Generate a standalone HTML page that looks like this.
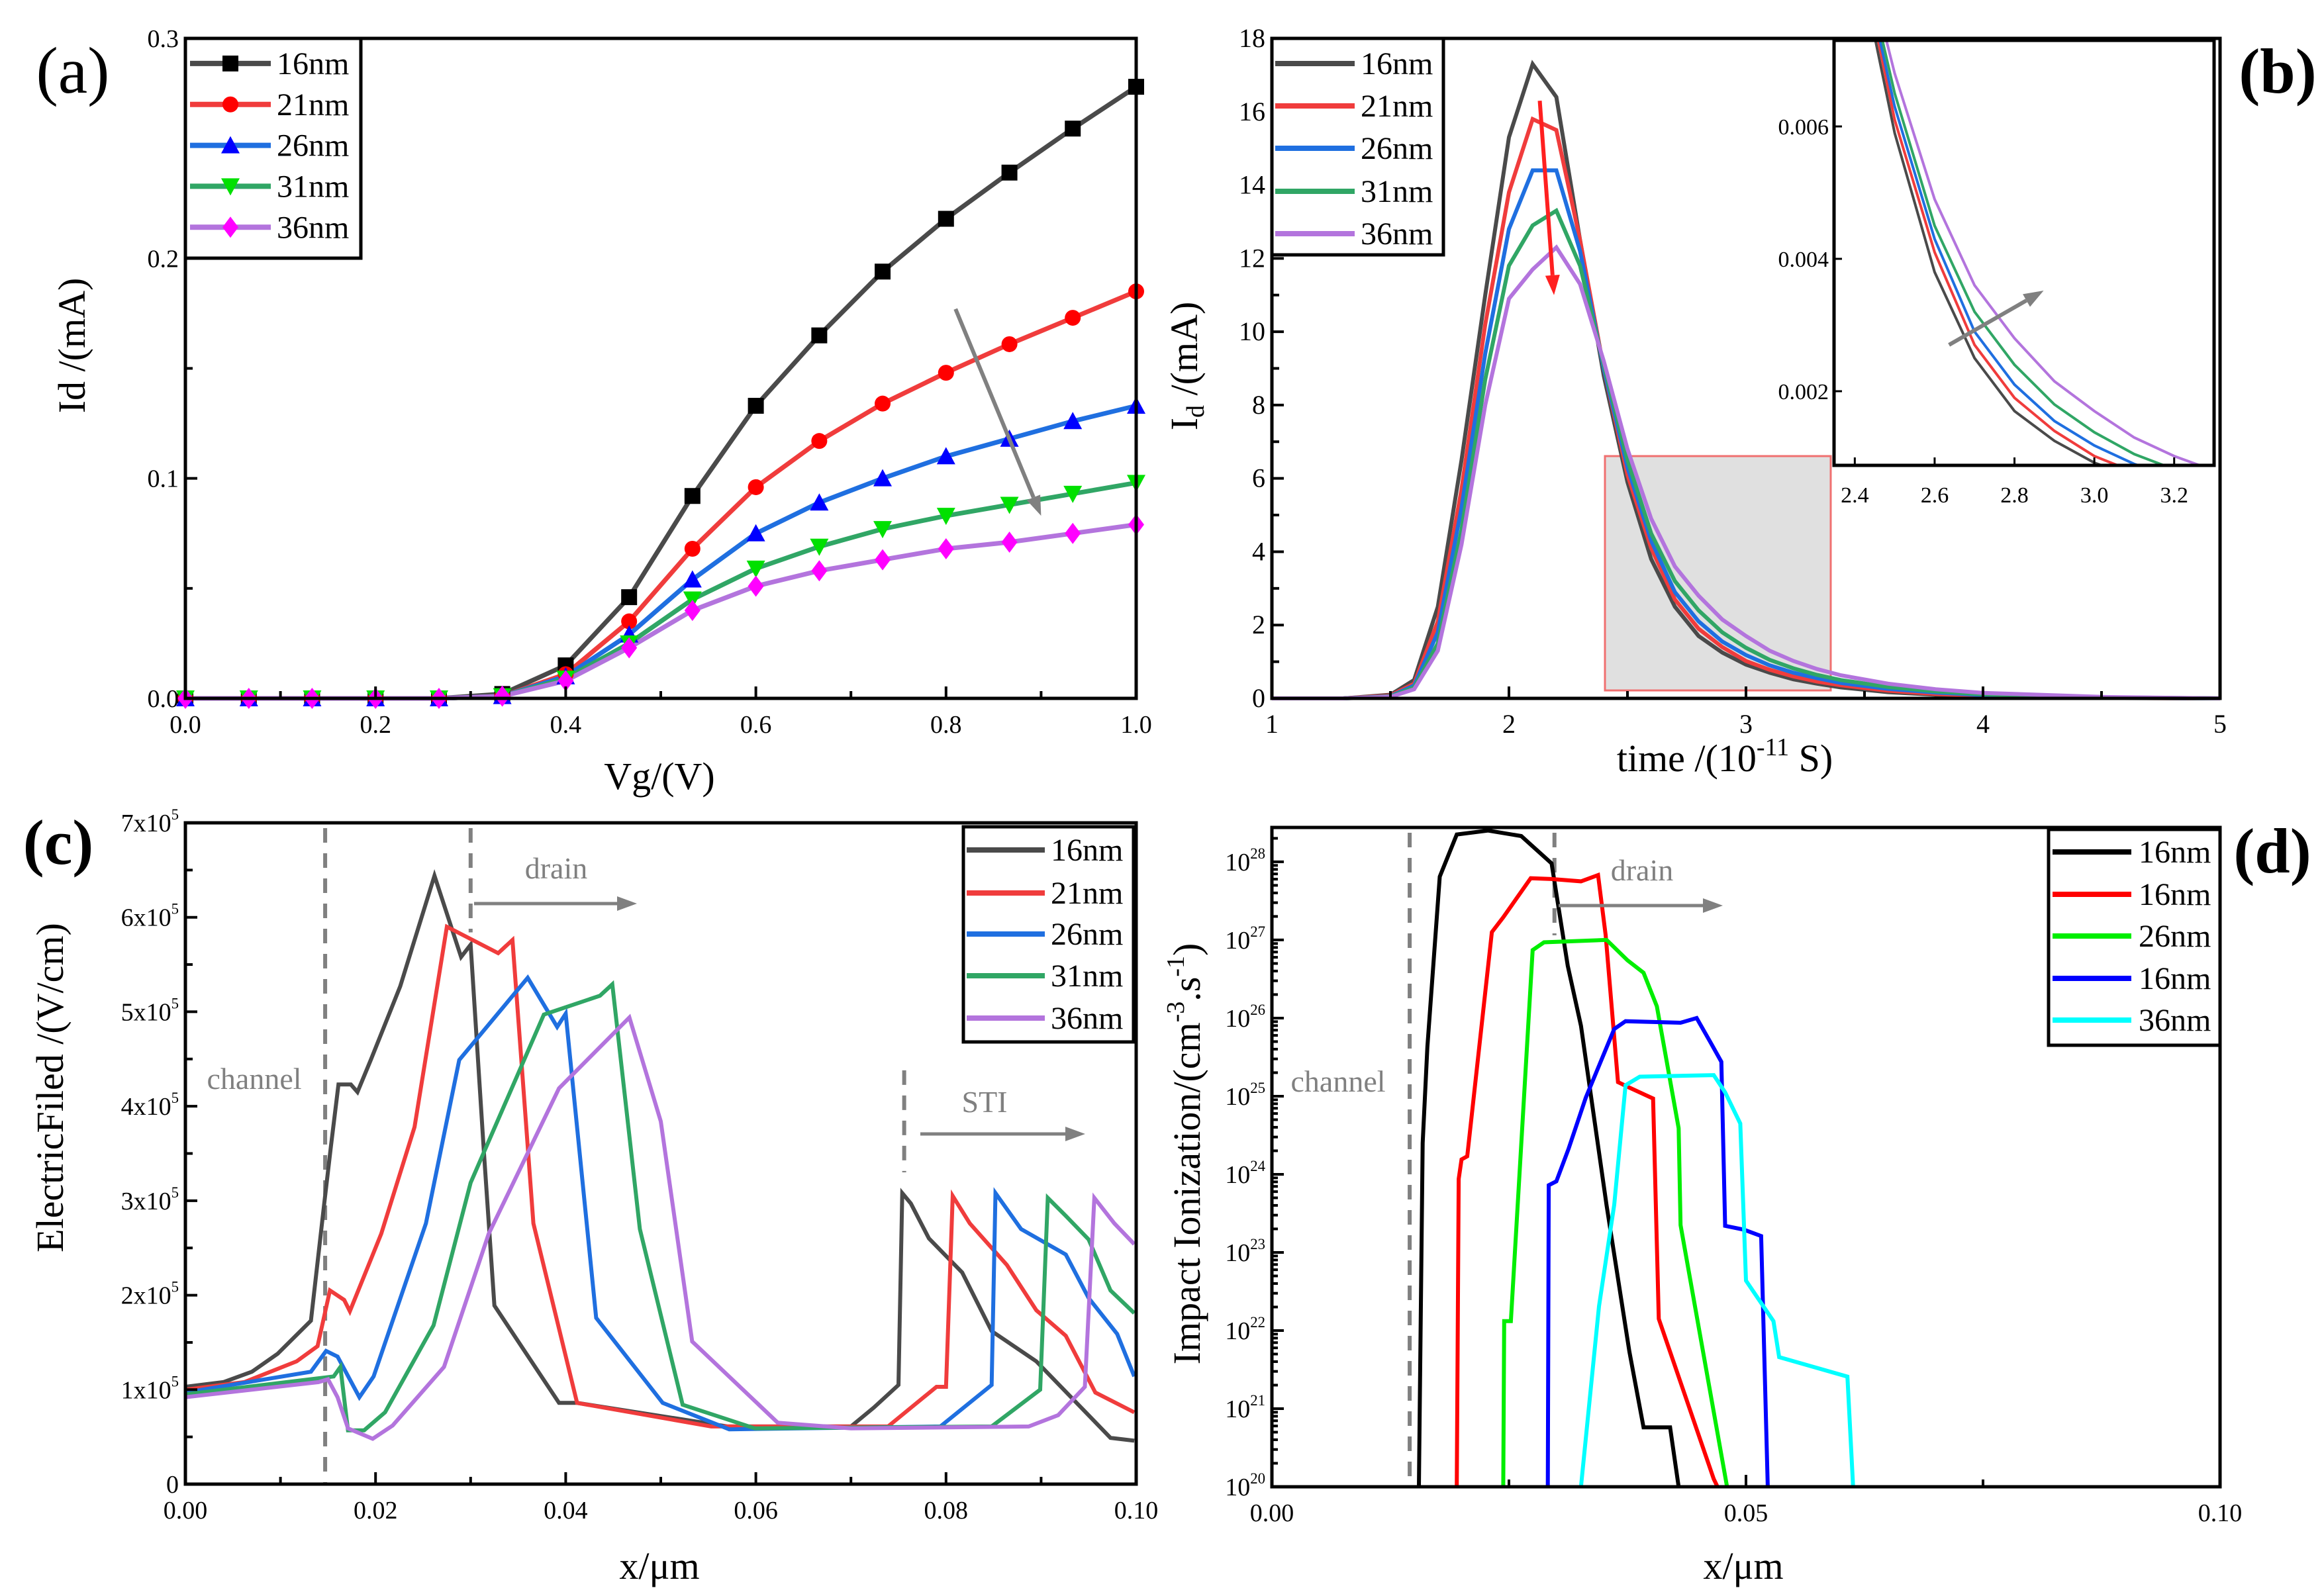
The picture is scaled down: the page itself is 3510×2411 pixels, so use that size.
<!DOCTYPE html>
<html><head><meta charset="utf-8">
<style>
html,body{margin:0;padding:0;background:#fff;}
svg{display:block;font-family:"Liberation Serif",serif;}
</style></head>
<body>
<svg id="chart" xmlns="http://www.w3.org/2000/svg" width="3510" height="2411" viewBox="0 0 3510 2411">
<rect x="0" y="0" width="3510" height="2411" fill="#fff"/>
<g id="ga"></g>
<g id="gb"></g>
<g id="gc"></g>
<g id="gd"></g>
</svg>
<script>
// ---------- Panel (a) data ----------
const aVg = [0,0.0667,0.1333,0.2,0.2667,0.3333,0.4,0.4667,0.5333,0.6,0.6667,0.7333,0.8,0.8667,0.9333,1.0];
const a16 = [0,0,0,0,0,0.002,0.015,0.046,0.092,0.133,0.165,0.194,0.218,0.239,0.259,0.278];
const a21 = [0,0,0,0,0,0.001,0.011,0.035,0.068,0.096,0.117,0.134,0.148,0.161,0.173,0.185];
const a26 = [0,0,0,0,0,0.001,0.010,0.029,0.054,0.075,0.089,0.100,0.110,0.118,0.126,0.133];
const a31 = [0,0,0,0,0,0.001,0.009,0.025,0.045,0.059,0.069,0.077,0.083,0.088,0.093,0.098];
const a36 = [0,0,0,0,0,0.001,0.008,0.023,0.040,0.051,0.058,0.063,0.068,0.071,0.075,0.079];
const aXTicks = [0,0.2,0.4,0.6,0.8,1.0];
const aXTickLabels = ["0.0","0.2","0.4","0.6","0.8","1.0"];
const aYTicks = [0,0.1,0.2,0.3];
const aYTickLabels = ["0.0","0.1","0.2","0.3"];
// ---------- Panel (b) data ----------
const bT = [1,1.3,1.5,1.6,1.7,1.8,1.9,2.0,2.1,2.2,2.3,2.4,2.5,2.6,2.7,2.8,2.9,3.0,3.1,3.2,3.3,3.4,3.6,3.8,4.0,4.5,5.0];
const b16 = [0,0,0.1,0.5,2.5,6.5,11.0,15.3,17.3,16.4,12.5,8.8,5.9,3.8,2.5,1.7,1.25,0.92,0.7,0.52,0.4,0.3,0.17,0.1,0.05,0.01,0];
const b21 = [0,0,0.08,0.4,2.1,5.7,10.2,13.8,15.8,15.5,12.5,9.0,6.1,4.1,2.7,1.9,1.4,1.02,0.78,0.6,0.46,0.36,0.21,0.12,0.07,0.015,0];
const b26 = [0,0,0.06,0.35,1.8,5.2,9.4,12.8,14.4,14.4,12.2,9.0,6.3,4.3,2.9,2.1,1.55,1.18,0.9,0.7,0.55,0.42,0.26,0.16,0.09,0.02,0];
const b31 = [0,0,0.05,0.3,1.5,4.6,8.7,11.8,12.9,13.3,11.8,9.1,6.5,4.5,3.2,2.4,1.8,1.38,1.05,0.82,0.64,0.5,0.31,0.19,0.11,0.03,0];
const b36 = [0,0,0.04,0.25,1.3,4.2,8.0,10.9,11.7,12.3,11.3,9.2,6.8,4.9,3.6,2.8,2.15,1.7,1.3,1.02,0.8,0.63,0.4,0.25,0.15,0.04,0];
const bXTicks = [1,2,3,4,5];
const bXTickLabels = ["1","2","3","4","5"];
const bYTicks = [0,2,4,6,8,10,12,14,16,18];
const bYTickLabels = ["0","2","4","6","8","10","12","14","16","18"];
const bInsetXTicks = [2.4,2.6,2.8,3.0,3.2];
const bInsetXTickLabels = ["2.4","2.6","2.8","3.0","3.2"];
const bInsetYTicks = [0.002,0.004,0.006];
const bInsetYTickLabels = ["0.002","0.004","0.006"];
// ---------- Panel (c) data (x in µm, E in 1e5 V/cm) ----------
const c16x = [0,0.004,0.007,0.0097,0.0132,0.0146,0.0153,0.0161,0.0174,0.0181,0.0195,0.0226,0.0262,0.029,0.030,0.0314,0.0325,0.0393,0.0412,0.057,0.070,0.0724,0.075,0.0754,0.0763,0.0782,0.0817,0.0848,0.0895,0.0973,0.0998];
const c16y = [1.03,1.08,1.19,1.38,1.73,2.97,3.57,4.23,4.23,4.15,4.49,5.27,6.44,5.58,5.71,3.51,1.89,0.86,0.86,0.61,0.61,0.81,1.05,3.08,2.97,2.6,2.24,1.62,1.3,0.49,0.46];
const c21x = [0,0.0062,0.0117,0.0139,0.0152,0.0167,0.0173,0.0206,0.0241,0.0275,0.0329,0.0344,0.0366,0.0412,0.0553,0.0739,0.079,0.080,0.0807,0.0825,0.0864,0.0895,0.0926,0.0957,0.0998];
const c21y = [1.0,1.08,1.3,1.46,2.05,1.95,1.83,2.65,3.78,5.9,5.62,5.76,2.76,0.86,0.61,0.61,1.03,1.03,3.05,2.76,2.32,1.84,1.57,0.97,0.76];
const c26x = [0,0.0132,0.0148,0.016,0.0183,0.0198,0.0253,0.0288,0.036,0.0391,0.040,0.0432,0.0502,0.0572,0.0794,0.0848,0.0852,0.0879,0.0926,0.095,0.098,0.0998];
const c26y = [0.97,1.19,1.41,1.35,0.92,1.14,2.76,4.49,5.36,4.84,4.98,1.76,0.86,0.58,0.61,1.05,3.08,2.7,2.43,1.97,1.59,1.14];
const c31x = [0,0.0156,0.0163,0.0171,0.0188,0.021,0.0261,0.030,0.0377,0.0436,0.0449,0.0478,0.0523,0.0599,0.0848,0.0899,0.0907,0.0926,0.095,0.0973,0.0998];
const c31y = [0.95,1.14,1.24,0.57,0.57,0.76,1.68,3.19,4.97,5.17,5.29,2.7,0.84,0.59,0.61,1.0,3.03,2.84,2.59,2.05,1.81];
const c36x = [0,0.014,0.015,0.016,0.0171,0.0197,0.0218,0.0272,0.0319,0.0393,0.0467,0.050,0.0533,0.0623,0.070,0.0887,0.0918,0.0946,0.0956,0.0977,0.0998];
const c36y = [0.92,1.08,1.11,0.92,0.59,0.48,0.62,1.24,2.65,4.19,4.94,3.84,1.51,0.65,0.59,0.61,0.73,1.03,3.03,2.76,2.54];
const cXTicks = [0,0.02,0.04,0.06,0.08,0.10];
const cXTickLabels = ["0.00","0.02","0.04","0.06","0.08","0.10"];
const cYTicks = [0,1,2,3,4,5,6,7];
const cYTickLabels = ["0","1x10","2x10","3x10","4x10","5x10","6x10","7x10"];
// ---------- Panel (d) data (x in µm, log10 of rate) ----------
const d1x = [0.0155,0.0156,0.0159,0.0164,0.0177,0.0195,0.0228,0.0263,0.0295,0.0312,0.0326,0.0353,0.0377,0.0392,0.042,0.0429];
const d1y = [20,21.1,24.4,25.63,27.81,28.35,28.4,28.33,27.98,26.67,25.9,23.6,21.73,20.76,20.76,20];
const d2x = [0.0195,0.0197,0.020,0.0206,0.0232,0.0244,0.0273,0.0295,0.0326,0.0344,0.0352,0.0365,0.0377,0.0402,0.0408,0.0466,0.047];
const d2y = [20,23.94,24.19,24.23,27.1,27.29,27.79,27.78,27.75,27.83,27.06,25.18,25.11,24.97,22.15,20.1,20];
const d3x = [0.0244,0.0245,0.0252,0.0275,0.0287,0.0353,0.0375,0.0392,0.0406,0.0429,0.0431,0.048];
const d3y = [20,22.12,22.12,26.87,26.97,27.0,26.74,26.58,26.15,24.59,23.35,20];
const d4x = [0.0291,0.0292,0.030,0.0313,0.0331,0.0361,0.0373,0.0431,0.0448,0.0463,0.0474,0.0478,0.0498,0.0516,0.0523];
const d4y = [20,23.86,23.91,24.33,24.98,25.86,25.96,25.94,26.0,25.68,25.44,23.34,23.29,23.21,20];
const d5x = [0.0326,0.0345,0.0361,0.0373,0.0388,0.0466,0.0478,0.0494,0.050,0.0529,0.0535,0.0607,0.0613];
const d5y = [20,22.31,23.61,25.14,25.25,25.27,25.05,24.65,22.64,22.12,21.66,21.41,20];
const dXTicks = [0,0.05,0.10];
const dXTickLabels = ["0.00","0.05","0.10"];
const dYTicks = [20,21,22,23,24,25,26,27,28];
const dYTickLabels = ["20","21","22","23","24","25","26","27","28"];

const NS = "http://www.w3.org/2000/svg";
function mk(tag, attrs, parent) {
  const e = document.createElementNS(NS, tag);
  for (const k in attrs) e.setAttribute(k, attrs[k]);
  parent.appendChild(e);
  return e;
}
function lin(d0, d1, r0, r1) { return v => r0 + (v - d0) / (d1 - d0) * (r1 - r0); }
function ptsStr(xs, ys, sx, sy) { return xs.map((x, i) => sx(x).toFixed(1) + "," + sy(ys[i]).toFixed(1)).join(" "); }

function frame(g, L, R, T, B) {
  const r = mk("rect", {x:L, y:T, width:R-L, height:B-T, fill:"none", stroke:"#000", "stroke-width":5}, g);
  
  
}
function xTicks(g, ticks, labels, sx, B, T, minorStep, fs, top) {
  ticks.forEach((v, i) => {
    const t = mk("line", {x1:sx(v), x2:sx(v), y1:B, y2:B-18, stroke:"#000", "stroke-width":4}, g);
    
    
    const tx = mk("text", {x:sx(v), y:B+52, "font-size":fs, "text-anchor":"middle", fill:"#000"}, g);
    
    
    tx.textContent = labels[i];
    if (minorStep && i < ticks.length - 1) {
      const m = mk("line", {x1:sx(v+minorStep), x2:sx(v+minorStep), y1:B, y2:B-11, stroke:"#000", "stroke-width":4}, g);
      
      
    }
  });
}
function yTicks(g, ticks, labels, sy, L, minorStep, fs, sup) {
  ticks.forEach((v, i) => {
    const t = mk("line", {x1:L, x2:L+18, y1:sy(v), y2:sy(v), stroke:"#000", "stroke-width":4}, g);
    
    
    const tx = mk("text", {x:L-10, y:sy(v)+13, "font-size":fs, "text-anchor":"end", fill:"#000"}, g);
    
    
    tx.textContent = labels[i];
    if (sup && !(sup === "5" && labels[i] === "0")) {
      const s = mk("tspan", {"font-size":fs*0.6, dy:-18}, tx);
      s.textContent = sup === "5" ? "5" : labels[i];
      if (sup !== "5") { tx.firstChild.textContent = "10"; }
    }
    if (minorStep && i < ticks.length - 1) {
      const m = mk("line", {x1:L, x2:L+11, y1:sy(v+minorStep), y2:sy(v+minorStep), stroke:"#000", "stroke-width":4}, g);
      
      
    }
  });
}
function legend(g, x, y, w, h, entries, lineX0, lineX1, textX, ys, fs) {
  const box = mk("rect", {x:x, y:y, width:w, height:h, fill:"#fff", stroke:"#000", "stroke-width":5}, g);
  
  
  entries.forEach((en, i) => {
    const l = mk("line", {x1:lineX0, x2:lineX1, y1:ys[i], y2:ys[i], stroke:en.c, "stroke-width":8}, g);
    
    
    if (en.m) marker(g, en.m, en.mc, (lineX0+lineX1)/2, ys[i]);
    const t = mk("text", {x:textX, y:ys[i]+16, "font-size":fs, fill:"#000"}, g);
    
    
    t.textContent = en.t;
  });
}
function marker(g, type, col, x, y) {
  let e, s = 12;
  if (type === "sq") e = mk("rect", {x:x-s, y:y-s, width:2*s, height:2*s, fill:col}, g);
  else if (type === "ci") e = mk("circle", {cx:x, cy:y, r:s, fill:col}, g);
  else if (type === "tu") e = mk("polygon", {points:`${x},${y-s-2} ${x-s-2},${y+s} ${x+s+2},${y+s}`, fill:col}, g);
  else if (type === "td") e = mk("polygon", {points:`${x},${y+s+2} ${x-s-2},${y-s} ${x+s+2},${y-s}`, fill:col}, g);
  else e = mk("polygon", {points:`${x},${y-s-4} ${x-s},${y} ${x},${y+s+4} ${x+s},${y}`, fill:col}, g);
  
  
}
function text(g, x, y, str, fs, attrs, name) {
  const t = mk("text", Object.assign({x:x, y:y, "font-size":fs, fill:"#000", "text-anchor":"middle"}, attrs || {}), g);
  
  
  t.textContent = str;
  return t;
}
function arrow(g, x1, y1, x2, y2, col, w, name) {
  const ang = Math.atan2(y2-y1, x2-x1), hl = 30, hw = 11;
  const bx = x2 - hl*Math.cos(ang), by = y2 - hl*Math.sin(ang);
  const l = mk("line", {x1:x1, y1:y1, x2:bx, y2:by, stroke:col, "stroke-width":w}, g);
  
  
  const p = mk("polygon", {points:`${x2},${y2} ${bx+hw*Math.sin(ang)},${by-hw*Math.cos(ang)} ${bx-hw*Math.sin(ang)},${by+hw*Math.cos(ang)}`, fill:col}, g);
  
  
}
function series(g, xs, ys, sx, sy, col, w, name) {
  const p = mk("polyline", {points:ptsStr(xs, ys, sx, sy), fill:"none", stroke:col, "stroke-width":w, "stroke-linejoin":"miter"}, g);
  
  
  return p;
}
function dashed(g, x, y1, y2, name) {
  const l = mk("line", {x1:x, x2:x, y1:y1, y2:y2, stroke:"#808080", "stroke-width":6, "stroke-dasharray":"22,16"}, g);
  
  
}

// ===== Panel A =====
(function(){
  const g = document.getElementById("ga");
  const L=280,R=1716,T=58,B=1055;
  const sx = lin(0,1,L,R), sy = lin(0,0.3,B,T);
  const ser = [[a16,"#4a4a4a","#000","sq"],[a21,"#f03c3c","#ff0000","ci"],[a26,"#1f6fe0","#0000ff","tu"],[a31,"#30a665","#00e000","td"],[a36,"#b374dd","#ff00ff","di"]];
  ser.forEach((s,k)=>{
    series(g, aVg, s[0], sx, sy, s[1], 7, "series-line-"+k);
  });
  ser.forEach((s,k)=>{
    aVg.forEach((v,i)=>marker(g, s[3], s[2], sx(v), sy(s[0][i])));
  });
  frame(g,L,R,T,B);
  xTicks(g, aXTicks, aXTickLabels, sx, B, T, 0.1, 38);
  yTicks(g, aYTicks, aYTickLabels, sy, L, 0.05, 38);
  legend(g, 280, 58, 265, 332, [
    {t:"16nm",c:"#4a4a4a",m:"sq",mc:"#000"},{t:"21nm",c:"#f03c3c",m:"ci",mc:"#ff0000"},
    {t:"26nm",c:"#1f6fe0",m:"tu",mc:"#0000ff"},{t:"31nm",c:"#30a665",m:"td",mc:"#00e000"},
    {t:"36nm",c:"#b374dd",m:"di",mc:"#ff00ff"}], 287, 409, 418, [105,178,251,324,397].map(v=>v*0.847+7), 48);
  arrow(g, sx(0.81), sy(0.177), sx(0.9), sy(0.083), "#808080", 6, "trend-arrow");
  text(g, 110, 140, "(a)", 100, {}, "panel-label");
  text(g, 128, 522, "Id /(mA)", 58, {transform:"rotate(-90 128 522)"}, "y-axis-title");
  text(g, 996, 1192, "Vg/(V)", 58, {}, "x-axis-title");
})();

// ===== Panel B =====
(function(){
  const g = document.getElementById("gb");
  const L=1921,R=3353,T=58,B=1055;
  const sx = lin(1,5,L,R), sy = lin(0,18,B,T);
  const cols = ["#4a4a4a","#f03c3c","#1f6fe0","#30a665","#b374dd"];
  const data = [b16,b21,b26,b31,b36];
  // zoom region box
  const zb = mk("rect", {x:2424, y:689, width:341, height:354, fill:"#e0e0e0", stroke:"#f07070", "stroke-width":3}, g);
  
  
  data.forEach((d,k)=>series(g, bT, d, sx, sy, cols[k], 6, "series-line-"+k));
  frame(g,L,R,T,B);
  xTicks(g, bXTicks, bXTickLabels, sx, B, T, 0.5, 40);
  yTicks(g, bYTicks, bYTickLabels, sy, L, 1, 40);
  legend(g, 1921, 58, 259, 327, [
    {t:"16nm",c:"#4a4a4a"},{t:"21nm",c:"#f03c3c"},{t:"26nm",c:"#1f6fe0"},{t:"31nm",c:"#30a665"},{t:"36nm",c:"#b374dd"}],
    1926, 2046, 2055, [96,160,224,289,353], 48);
  arrow(g, sx(2.13), sy(16.3), sx(2.19), sy(11.0), "#ff2020", 6, "trend-arrow-red");
  // inset
  const iL=2770,iR=3344,iT=61,iB=703;
  const ix = lin(2.348,3.3,iL,iR), iy = lin(0.00088,0.0073,iB,iT);
  const bg = mk("rect", {x:iL, y:iT, width:iR-iL, height:iB-iT, fill:"#fff"}, g);
  
  
  const cp = mk("clipPath", {id:"insetclip"}, g);
  mk("rect", {x:iL, y:iT, width:iR-iL, height:iB-iT}, cp);
  const ig = mk("g", {"clip-path":"url(#insetclip)"}, g);
  
  
  data.forEach((d,k)=>series(ig, bT, d.map(v=>v/1000), ix, iy, cols[k], 4, "inset-line-"+k));
  const fr = mk("rect", {x:iL, y:iT, width:iR-iL, height:iB-iT, fill:"none", stroke:"#000", "stroke-width":5}, g);
  
  
  bInsetXTicks.forEach((v,i)=>{
    const t = mk("line", {x1:ix(v), x2:ix(v), y1:iB, y2:iB-12, stroke:"#000", "stroke-width":3}, g);
    
    
    text(g, ix(v), iB+56, bInsetXTickLabels[i], 34, {}, "inset-x-tick-label");
  });
  bInsetYTicks.forEach((v,i)=>{
    const t = mk("line", {x1:iL, x2:iL+12, y1:iy(v), y2:iy(v), stroke:"#000", "stroke-width":3}, g);
    
    
    text(g, iL-8, iy(v)+12, bInsetYTickLabels[i], 34, {"text-anchor":"end"}, "inset-y-tick-label");
  });
  arrow(g, ix(2.636), iy(0.0027), ix(2.873), iy(0.00352), "#808080", 6, "inset-trend-arrow");
  text(g, 3440, 140, "(b)", 96, {"font-weight":"bold"}, "panel-label");
  const yt = text(g, 1808, 553, "I", 58, {transform:"rotate(-90 1808 553)"}, "y-axis-title");
  const ys = mk("tspan", {"font-size":38, dy:10}, yt); ys.textContent = "d";
  const ys2 = mk("tspan", {dy:-10}, yt); ys2.textContent = " /(mA)";
  const xt = text(g, 2605, 1165, "time /(10", 58, {}, "x-axis-title");
  const xs = mk("tspan", {"font-size":38, dy:-24}, xt); xs.textContent = "-11";
  const xs2 = mk("tspan", {dy:24}, xt); xs2.textContent = " S)";
})();

// ===== Panel C =====
(function(){
  const g = document.getElementById("gc");
  const L=280,R=1716,T=1243,B=2242;
  const sx = lin(0,0.1,L,R), sy = lin(0,7,B,T);
  const cols = ["#4a4a4a","#f03c3c","#1f6fe0","#30a665","#b374dd"];
  dashed(g, sx(0.0147), T+8, B, "channel-boundary");
  dashed(g, sx(0.030), T+8, sy(5.84), "drain-boundary");
  dashed(g, sx(0.0756), sy(4.38), sy(3.3), "sti-boundary");
  series(g, c16x, c16y, sx, sy, cols[0], 6, "series-line-16nm");
  series(g, c21x, c21y, sx, sy, cols[1], 6, "series-line-21nm");
  series(g, c26x, c26y, sx, sy, cols[2], 6, "series-line-26nm");
  series(g, c31x, c31y, sx, sy, cols[3], 6, "series-line-31nm");
  series(g, c36x, c36y, sx, sy, cols[4], 6, "series-line-36nm");
  frame(g,L,R,T,B);
  xTicks(g, cXTicks, cXTickLabels, sx, B, T, 0.01, 38);
  yTicks(g, cYTicks, cYTickLabels, sy, L, 0.5, 38, "5");
  legend(g, 1455, 1249, 257, 325, [
    {t:"16nm",c:"#4a4a4a"},{t:"21nm",c:"#f03c3c"},{t:"26nm",c:"#1f6fe0"},{t:"31nm",c:"#30a665"},{t:"36nm",c:"#b374dd"}],
    1460, 1578, 1587, [1284,1349,1411,1474,1538], 48);
  text(g, 384, 1645, "channel", 46, {fill:"#808080"}, "channel-annotation");
  text(g, 840, 1327, "drain", 46, {fill:"#808080"}, "drain-annotation");
  arrow(g, 716, 1365, 962, 1365, "#808080", 5, "drain-arrow");
  text(g, 1487, 1680, "STI", 46, {fill:"#808080"}, "sti-annotation");
  arrow(g, 1390, 1713, 1639, 1713, "#808080", 5, "sti-arrow");
  text(g, 88, 1305, "(c)", 96, {"font-weight":"bold"}, "panel-label");
  text(g, 95, 1643, "ElectricFiled /(V/cm)", 58, {transform:"rotate(-90 95 1643)"}, "y-axis-title");
  text(g, 996, 2385, "x/μm", 58, {}, "x-axis-title");
})();

// ===== Panel D =====
(function(){
  const g = document.getElementById("gd");
  const L=1921,R=3353,T=1250,B=2246;
  const sx = lin(0,0.1,L,R), sy = lin(20,28.44,B,T);
  dashed(g, sx(0.01453), T+8, B, "channel-boundary");
  dashed(g, sx(0.0298), T+8, sy(27.06), "drain-boundary");
  series(g, d1x, d1y, sx, sy, "#000000", 6, "series-line-16nm-a");
  series(g, d2x, d2y, sx, sy, "#ff0000", 6, "series-line-16nm-b");
  series(g, d3x, d3y, sx, sy, "#00ee00", 6, "series-line-26nm");
  series(g, d4x, d4y, sx, sy, "#0000ff", 6, "series-line-16nm-c");
  series(g, d5x, d5y, sx, sy, "#00ffff", 6, "series-line-36nm");
  frame(g,L,R,T,B);
  xTicks(g, dXTicks, dXTickLabels, sx, B, T, 0.025, 38);
  yTicks(g, dYTicks, dYTickLabels, sy, L, 0, 38, "log");
  dYTicks.forEach(v=>{
    for (let m=2; m<=9; m++) {
      const yy = sy(v + Math.log10(m));
      if (yy < T) continue;
      const t = mk("line", {x1:L, x2:L+9, y1:yy, y2:yy, stroke:"#000", "stroke-width":4}, g);
      
      
    }
  });
  legend(g, 3094, 1253, 259, 326, [
    {t:"16nm",c:"#000000"},{t:"16nm",c:"#ff0000"},{t:"26nm",c:"#00ee00"},{t:"16nm",c:"#0000ff"},{t:"36nm",c:"#00ffff"}],
    3100, 3219, 3230, [1287,1351,1414,1478,1541], 48);
  text(g, 2021, 1649, "channel", 46, {fill:"#808080"}, "channel-annotation");
  text(g, 2480, 1330, "drain", 46, {fill:"#808080"}, "drain-annotation");
  arrow(g, 2354, 1368, 2602, 1368, "#808080", 5, "drain-arrow");
  text(g, 3432, 1318, "(d)", 96, {"font-weight":"bold"}, "panel-label");
  const yt = text(g, 1812, 1743, "Impact Ionization/(cm", 58, {transform:"rotate(-90 1812 1743)"}, "y-axis-title");
  const s1 = mk("tspan", {"font-size":38, dy:-24}, yt); s1.textContent = "-3";
  const s2 = mk("tspan", {dy:24}, yt); s2.textContent = ".s";
  const s3 = mk("tspan", {"font-size":38, dy:-24}, yt); s3.textContent = "-1";
  const s4 = mk("tspan", {dy:24}, yt); s4.textContent = ")";
  text(g, 2633, 2385, "x/μm", 58, {}, "x-axis-title");
})();
</script>
</body></html>
